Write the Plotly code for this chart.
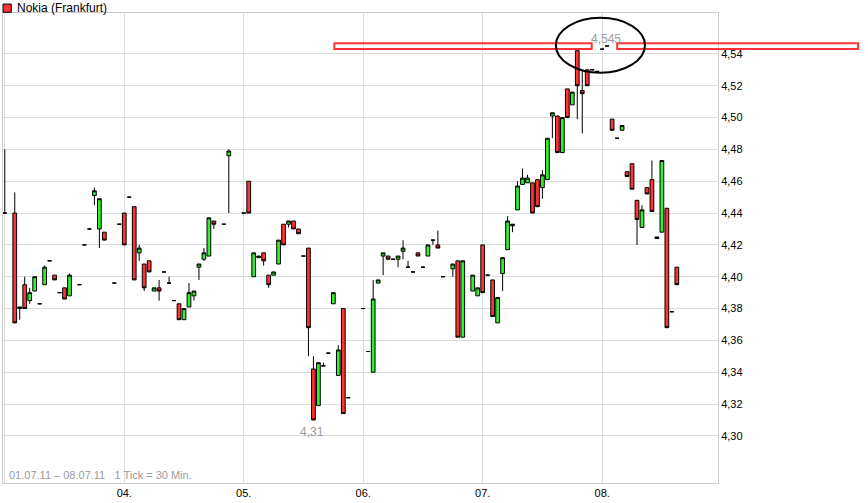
import plotly.graph_objects as go

# 30-minute slot index (24 slots per trading day, slot 0 = 01.07.11 first tick)
slot = [0, 2, 3, 4, 5, 6, 7, 8, 9, 10, 11, 12, 13, 15, 16, 17, 18, 19, 20, 22, 23,
        24, 25, 26, 27, 28, 29, 30, 31, 32, 33, 34, 35, 36, 37, 38, 39, 40, 41, 42, 44, 45,
        48, 49, 50, 51, 52, 53, 54, 55, 56, 57, 58, 59, 60, 61, 62, 63, 64, 65, 66, 67, 68, 69,
        72, 73, 74, 75, 76, 77, 78, 79, 80, 81, 82, 83, 84, 85, 86, 87, 88, 90, 91, 92, 94, 95,
        96, 97, 98, 99, 100, 101, 102, 103, 104, 105, 106, 107, 108, 109, 110, 111, 112, 113,
        114, 115, 116, 117, 118, 119,
        120, 121, 122, 123, 124, 125, 126, 127, 128, 129, 130, 131, 132, 133, 134, 135]

open_ = [4.440, 4.440, 4.380, 4.395, 4.385, 4.391, 4.383, 4.395, 4.410, 4.401, 4.390, 4.393, 4.388, 4.395, 4.420, 4.430, 4.451, 4.430, 4.428, 4.396, 4.433,
         4.440, 4.450, 4.444, 4.415, 4.408, 4.410, 4.391, 4.393, 4.403, 4.396, 4.385, 4.383, 4.373, 4.381, 4.388, 4.406, 4.411, 4.413, 4.435, 4.433, 4.476,
         4.440, 4.460, 4.400, 4.412, 4.415, 4.401, 4.401, 4.408, 4.433, 4.433, 4.435, 4.430, 4.413, 4.418, 4.342, 4.319, 4.344, 4.352, 4.383, 4.338, 4.380, 4.324,
         4.380, 4.353, 4.340, 4.396, 4.413, 4.413, 4.411, 4.411, 4.416, 4.406, 4.403, 4.415, 4.406, 4.413, 4.423, 4.420, 4.400, 4.405, 4.410, 4.362, 4.391, 4.388,
         4.420, 4.401, 4.398, 4.371, 4.402, 4.417, 4.432, 4.442, 4.458, 4.459, 4.459, 4.461, 4.456, 4.461, 4.501, 4.501, 4.478, 4.518,
         4.508, 4.542, 4.517, 4.530, 4.530, 4.529,
         4.543, 4.545, 4.499, 4.487, 4.492, 4.466, 4.471, 4.448, 4.431, 4.456, 4.461, 4.424, 4.428, 4.443, 4.378, 4.406]

high = [4.480, 4.453, 4.381, 4.400, 4.393, 4.400, 4.383, 4.407, 4.410, 4.401, 4.390, 4.393, 4.402, 4.395, 4.420, 4.430, 4.456, 4.449, 4.428, 4.396, 4.433,
        4.440, 4.450, 4.444, 4.420, 4.408, 4.410, 4.393, 4.398, 4.403, 4.400, 4.385, 4.383, 4.380, 4.396, 4.391, 4.408, 4.418, 4.437, 4.435, 4.433, 4.480,
        4.440, 4.460, 4.415, 4.413, 4.415, 4.401, 4.403, 4.423, 4.433, 4.435, 4.435, 4.430, 4.413, 4.418, 4.350, 4.346, 4.346, 4.352, 4.390, 4.357, 4.380, 4.324,
        4.380, 4.353, 4.398, 4.398, 4.415, 4.413, 4.411, 4.413, 4.423, 4.410, 4.403, 4.415, 4.406, 4.420, 4.423, 4.429, 4.400, 4.408, 4.410, 4.410, 4.401, 4.393,
        4.420, 4.401, 4.398, 4.387, 4.412, 4.438, 4.433, 4.460, 4.468, 4.464, 4.459, 4.461, 4.467, 4.487, 4.503, 4.501, 4.500, 4.518,
        4.516, 4.542, 4.530, 4.530, 4.530, 4.529,
        4.543, 4.545, 4.499, 4.487, 4.495, 4.466, 4.471, 4.448, 4.445, 4.456, 4.473, 4.425, 4.473, 4.443, 4.378, 4.406]

low = [4.440, 4.371, 4.373, 4.380, 4.383, 4.391, 4.383, 4.395, 4.410, 4.398, 4.390, 4.386, 4.388, 4.395, 4.420, 4.430, 4.445, 4.418, 4.423, 4.396, 4.433,
       4.420, 4.450, 4.398, 4.410, 4.391, 4.403, 4.391, 4.385, 4.403, 4.396, 4.385, 4.373, 4.373, 4.381, 4.385, 4.398, 4.410, 4.413, 4.430, 4.433, 4.440,
       4.440, 4.440, 4.400, 4.412, 4.407, 4.393, 4.401, 4.408, 4.420, 4.431, 4.430, 4.427, 4.413, 4.350, 4.310, 4.319, 4.344, 4.352, 4.383, 4.338, 4.314, 4.324,
       4.380, 4.353, 4.340, 4.396, 4.401, 4.411, 4.411, 4.406, 4.411, 4.406, 4.403, 4.413, 4.406, 4.413, 4.420, 4.418, 4.400, 4.400, 4.362, 4.362, 4.391, 4.388,
       4.390, 4.401, 4.375, 4.371, 4.391, 4.417, 4.428, 4.442, 4.458, 4.459, 4.440, 4.444, 4.449, 4.461, 4.487, 4.478, 4.478, 4.500,
       4.508, 4.499, 4.490, 4.520, 4.530, 4.529,
       4.543, 4.545, 4.492, 4.487, 4.492, 4.463, 4.455, 4.420, 4.431, 4.452, 4.441, 4.424, 4.428, 4.368, 4.378, 4.395]

close = [4.440, 4.371, 4.381, 4.380, 4.390, 4.400, 4.383, 4.406, 4.410, 4.398, 4.390, 4.386, 4.401, 4.395, 4.420, 4.430, 4.454, 4.449, 4.423, 4.396, 4.433,
         4.420, 4.450, 4.398, 4.418, 4.393, 4.403, 4.393, 4.391, 4.403, 4.396, 4.385, 4.373, 4.380, 4.390, 4.391, 4.408, 4.415, 4.437, 4.433, 4.433, 4.479,
         4.440, 4.440, 4.415, 4.413, 4.410, 4.395, 4.403, 4.423, 4.420, 4.435, 4.430, 4.427, 4.413, 4.368, 4.310, 4.346, 4.344, 4.352, 4.390, 4.354, 4.314, 4.324,
         4.380, 4.353, 4.386, 4.398, 4.415, 4.411, 4.411, 4.413, 4.418, 4.406, 4.403, 4.413, 4.406, 4.420, 4.423, 4.418, 4.400, 4.408, 4.362, 4.410, 4.401, 4.393,
         4.390, 4.401, 4.375, 4.387, 4.412, 4.435, 4.433, 4.457, 4.462, 4.462, 4.440, 4.444, 4.464, 4.487, 4.503, 4.478, 4.500, 4.500,
         4.516, 4.520, 4.515, 4.520, 4.530, 4.529,
         4.543, 4.545, 4.492, 4.487, 4.495, 4.463, 4.455, 4.436, 4.442, 4.452, 4.441, 4.425, 4.473, 4.368, 4.378, 4.395]

day_slots = [0, 24, 48, 72, 96, 120]
day_labels = ["", "04.", "05.", "06.", "07.", "08."]
price_ticks = [4.30, 4.32, 4.34, 4.36, 4.38, 4.40, 4.42, 4.44, 4.46, 4.48, 4.50, 4.52, 4.54]

title_text = "Nokia (Frankfurt)"
footer_text = "01.07.11 \u2013 08.07.11\u00a0\u00a0 1 Tick = 30 Min."

FONT = "Liberation Sans, Arial, sans-serif"
GRAY = "#9a9a9a"

fig = go.Figure(go.Candlestick(
    x=slot, open=open_, high=high, low=low, close=close,
    increasing=dict(fillcolor="#33ee33", line=dict(color="black", width=1)),
    decreasing=dict(fillcolor="#ff3333", line=dict(color="black", width=1)),
    whiskerwidth=0, showlegend=False, hoverinfo="skip",
))

# extremes
hi_i = max(range(len(high)), key=lambda i: high[i])
lo_i = min(range(len(low)), key=lambda i: low[i])
hi_x, hi_v = slot[hi_i], high[hi_i]
lo_x, lo_v = slot[lo_i], low[lo_i]

def fmt(v):
    s = ("%.3f" % v).rstrip("0")
    if len(s.split(".")[1]) < 2:
        s += "0" * (2 - len(s.split(".")[1]))
    return s.replace(".", ",")

shapes = [
    # legend square
    dict(type="rect", xref="paper", yref="paper", x0=0.0, x1=0.0116, y0=1.0015, y1=1.019,
         fillcolor="#ff3333", line=dict(color="black", width=1)),
    # red boxes at the high level
    dict(type="rect", xref="x", yref="y", x0=66.2, x1=117.9, y0=hi_v - 0.0019, y1=hi_v + 0.0017,
         line=dict(color="#ff3333", width=2), fillcolor="rgba(0,0,0,0)"),
    dict(type="rect", xref="paper", yref="y", x0=0.859, x1=1.196, y0=hi_v - 0.0019, y1=hi_v + 0.0017,
         line=dict(color="#ff3333", width=2), fillcolor="rgba(0,0,0,0)"),
    # ellipse round the high
    dict(type="circle", xref="x", yref="y", x0=hi_x - 10.3, x1=hi_x + 7.6,
         y0=hi_v - 0.0168, y1=hi_v + 0.0177, line=dict(color="black", width=2)),
]

annotations = [
    dict(text=title_text, xref="paper", yref="paper", x=0.0172, y=1.0100, xanchor="left",
         yanchor="middle", showarrow=False, font=dict(family=FONT, size=12, color="black")),
    dict(text=footer_text, xref="paper", yref="paper", x=0.005, y=0.0, xanchor="left",
         yanchor="bottom", yshift=0, showarrow=False, font=dict(family=FONT, size=11, color=GRAY)),
    dict(text=fmt(hi_v), x=hi_x, y=hi_v, xref="x", yref="y", xanchor="center", yanchor="bottom",
         showarrow=False, yshift=-2, xshift=-1, font=dict(family=FONT, size=12, color=GRAY)),
    dict(text=fmt(lo_v), x=lo_x, y=lo_v, xref="x", yref="y", xanchor="center", yanchor="top",
         showarrow=False, yshift=-3, xshift=-1, font=dict(family=FONT, size=12, color=GRAY)),
]

fig.update_layout(
    width=868, height=503,
    margin=dict(l=3, r=150, t=13, b=20),
    paper_bgcolor="white", plot_bgcolor="white",
    separators=",.",
    boxgap=0.25, boxgroupgap=0,
    showlegend=False,
    shapes=shapes, annotations=annotations,
    font=dict(family=FONT, size=11, color="black"),
    xaxis=dict(range=[-0.36, 143.27], tickmode="array", tickvals=day_slots, ticktext=day_labels,
               showgrid=True, gridcolor="#dcdcdc", gridwidth=1, zeroline=False,
               showline=True, linecolor="#cccccc", mirror=True, ticks="",
               rangeslider=dict(visible=False), fixedrange=True, automargin=False,
               tickfont=dict(family=FONT, size=11, color="black")),
    yaxis=dict(range=[4.2704, 4.5657], side="right", tickmode="array", tickvals=price_ticks,
               tickformat=".2f", showgrid=True, gridcolor="#dcdcdc", gridwidth=1,
               zeroline=False, showline=True, linecolor="#cccccc", mirror=True, ticks="",
               fixedrange=True, automargin=False,
               tickfont=dict(family=FONT, size=11, color="black")),
)

fig.write_html(
    "out.html",
    config={"displayModeBar": False},
    post_script="document.body.style.margin='0';document.body.style.overflow='hidden';",
)
